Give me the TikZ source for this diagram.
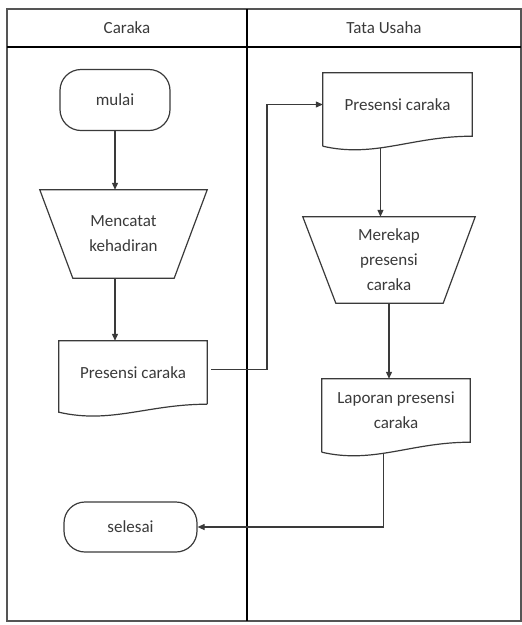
\documentclass[tikz,border=0pt]{standalone}
\usepackage{fontspec}
\setmainfont{Carlito}
\usetikzlibrary{arrows.meta}
\definecolor{ln}{HTML}{3A3A3A}
\definecolor{fr}{HTML}{555555}
\begin{document}
\begin{tikzpicture}[x=1pt,y=-1pt,
  shp/.style={draw=ln, line width=1.2pt},
  txt/.style={text=ln, font=\fontsize{17}{25}\selectfont, align=center, inner sep=0pt},
  term/.style={txt, shp, rounded corners=21pt},
  box/.style={txt, draw=none},
  conn/.style={draw=ln, line width=1.1pt, -{Triangle[length=7pt,width=6pt]}},
  plain/.style={draw=ln, line width=1.1pt},
  frame/.style={draw=fr, line width=1.3pt}]
\useasboundingbox (0,0) rectangle (522,625);
% lanes
\draw[frame] (7,9) rectangle (521,621);
\draw[frame, draw=black] (7,47) -- (521,47);
\draw[frame, draw=black] (247,9) -- (247,621);
\node[txt] (h1) at (127,28) {Caraka};
\node[txt] (h2) at (384,28) {Tata Usaha};
% terminals
\node[term, minimum width=110pt, minimum height=61pt] (mulai) at (115,100) {mulai};
\node[term, minimum width=133pt, minimum height=50pt] (selesai) at (130.5,527) {selesai};
% trapezoids
\node[box, minimum width=167pt, minimum height=88pt] (t1) at (123.5,234) {Mencatat\\kehadiran};
\draw[shp] (t1.north west) -- (t1.north east) -- ([xshift=-33pt]t1.south east) -- ([xshift=33pt]t1.south west) -- cycle;
\node[box, minimum width=172pt, minimum height=86pt] (t2) at (389,260) {Merekap\\presensi\\caraka};
\draw[shp] (t2.north west) -- (t2.north east) -- ([xshift=-32pt]t2.south east) -- ([xshift=33pt]t2.south west) -- cycle;
% documents
\node[box, minimum width=148pt, minimum height=63pt] (dl) at (133,372.5) {Presensi caraka};
\draw[shp] (dl.south east) -- (dl.north east) -- (dl.north west) -- ([yshift=-8pt]dl.south west)
  .. controls ([xshift=52pt,yshift=-20pt]dl.south west) and ([xshift=89pt]dl.south west) .. (dl.south east);
\node[box, minimum width=149pt, minimum height=63pt] (d1) at (397.5,104.5) {Presensi caraka};
\draw[shp] ([yshift=-10pt]d1.south west) -- (d1.north west) -- (d1.north east) -- (d1.south east)
  .. controls ([xshift=89pt]d1.south west) and ([xshift=52pt,yshift=-22pt]d1.south west) .. ([yshift=-10pt]d1.south west)
  coordinate[pos=0.6] (d1b);
\node[box, minimum width=148pt, minimum height=63pt] (d3) at (396,410.5) {Laporan presensi\\caraka};
\draw[shp] ([yshift=-10pt]d3.south west) -- (d3.north west) -- (d3.north east) -- (d3.south east)
  .. controls ([xshift=89pt]d3.south west) and ([xshift=52pt,yshift=-22pt]d3.south west) .. ([yshift=-10pt]d3.south west)
  coordinate[pos=0.57] (d3b);
% connectors
\coordinate (bend) at (267,0);
\draw[conn] (mulai.south) -- (mulai.south |- t1.north);
\draw[conn] (t1.south -| mulai.south) -- (mulai.south |- dl.north);
\draw[conn] ([xshift=4pt,yshift=3pt]dl.east) -| (bend |- d1.west) -- (d1.west);
\draw[conn] (d1b) -- (d1b |- t2.north);
\draw[conn] (t2.south) -- (t2.south |- d3.north);
\draw[conn] (d3b) |- (selesai.east);
\end{tikzpicture}
\end{document}
